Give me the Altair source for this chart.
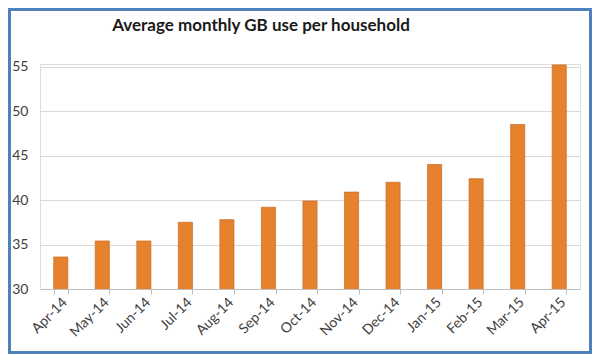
import altair as alt
import pandas as pd

months = ["Apr-14", "May-14", "Jun-14", "Jul-14", "Aug-14", "Sep-14", "Oct-14",
          "Nov-14", "Dec-14", "Jan-15", "Feb-15", "Mar-15", "Apr-15"]
values = [33.6, 35.4, 35.4, 37.5, 37.8, 39.2, 39.9, 40.9, 42.0, 44.0, 42.4, 48.5, 55.2]
y_ticks = [30, 35, 40, 45, 50, 55]
title_text = ["Average monthly GB use per household"]

df = pd.DataFrame({"month": months, "gb": values})

W, H = 540, 225

bars = alt.Chart(df).mark_bar(
    color="#E6812E", stroke="#C86A1E", strokeWidth=0.7, clip=True
).encode(
    x=alt.X("month:N", sort=months,
            scale=alt.Scale(paddingInner=0.66, paddingOuter=0.33),
            axis=alt.Axis(title=None, labelAngle=-45, labelAlign="right",
                          labelBaseline="middle", labelFontSize=14,
                          labelColor="#404040", labelFont="Lato",
                          labelOffset=4,
                          domainColor="#BFBFBF", tickColor="#BFBFBF",
                          tickBand="extent", tickSize=5, labelPadding=6)),
    y=alt.Y("gb:Q", scale=alt.Scale(domain=[30, 55.3], nice=False, zero=False),
            axis=alt.Axis(title=None, values=y_ticks, grid=True,
                          gridColor="#D9D9D9", domain=False, ticks=False,
                          labelFontSize=14, labelColor="#404040",
                          labelFont="Lato", labelPadding=12))
)

title = alt.Chart(pd.DataFrame({"t": title_text})).mark_text(
    font="Lato", fontSize=17, fontWeight="bold", color="#1a1a1a",
    align="center", baseline="alphabetic"
).encode(text="t:N", x=alt.value(221), y=alt.value(-33))

border = alt.Chart(df).mark_rect(
    fill=None, stroke="#4F81BD", strokeWidth=2.5, clip=False
).encode(
    x=alt.value(-30.5), x2=alt.value(550.5), y=alt.value(-54.5), y2=alt.value(288.5)
)

chart = alt.layer(bars, title, border).properties(
    width=W, height=H,
    autosize=alt.AutoSizeParams(type="none"),
    padding={"left": 32, "top": 56, "right": 12, "bottom": 65},
).configure_view(stroke=None).configure(background="white")

chart.save("out.html", embed_options={"renderer": "svg", "actions": False})
